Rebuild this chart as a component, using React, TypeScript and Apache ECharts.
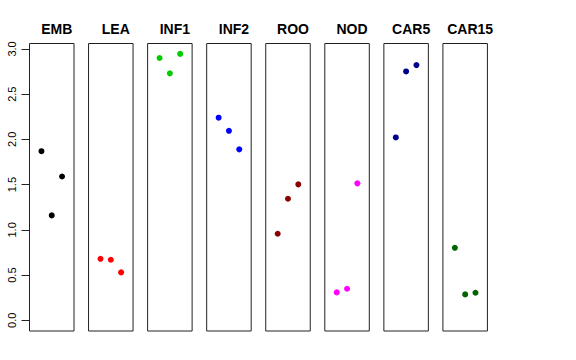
import React, { useEffect, useRef } from "react";
import * as echarts from "echarts";

const categories = ["EMB", "LEA", "INF1", "INF2", "ROO", "NOD", "CAR5", "CAR15"];
const colors = ["#000000", "#FF0000", "#00CD00", "#0000FF", "#8B0000", "#FF00FF", "#00008B", "#006400"];
const xPositions = [1, 2, 3];
const embValues = [1.87, 1.16, 1.59];
const leaValues = [0.68, 0.67, 0.53];
const inf1Values = [2.9, 2.73, 2.945];
const inf2Values = [2.24, 2.095, 1.89];
const rooValues = [0.957, 1.344, 1.503];
const nodValues = [0.309, 0.349, 1.514];
const car5Values = [2.022, 2.751, 2.821];
const car15Values = [0.802, 0.287, 0.305];
const seriesValues = [embValues, leaValues, inf1Values, inf2Values, rooValues, nodValues, car5Values, car15Values];
const yTicks = { min: 0, max: 3, interval: 0.5 };

export default function App() {
  const ref = useRef<HTMLDivElement>(null);
  useEffect(() => {
    document.body.style.margin = "0";
    if (!ref.current) return;
    const chart = echarts.init(ref.current, null, { renderer: "svg" });
    const left0 = 29.5;
    const step = 59.06;
    const w = 44.5;
    const top = 43.5;
    const h = 287.5;
    const yLo = -0.1177;
    const yHi = 3.06;
    const font = "Liberation Sans, Arial, Helvetica, sans-serif";
    const grids: any[] = [];
    const xAxes: any[] = [];
    const yAxes: any[] = [];
    const series: any[] = [];
    const titles: any[] = [];
    categories.forEach((c, i) => {
      const l = left0 + i * step;
      grids.push({ left: l, top, width: w, height: h, show: true, borderColor: "#222", borderWidth: 1, backgroundColor: "transparent" });
      xAxes.push({ gridIndex: i, type: "value", min: -0.16, max: 4.16, show: false });
      yAxes.push({ gridIndex: i, type: "value", min: yLo, max: yHi, show: false });
      series.push({
        type: "scatter",
        xAxisIndex: i,
        yAxisIndex: i,
        symbol: "circle",
        symbolSize: 6,
        itemStyle: { color: colors[i], opacity: 1 },
        data: xPositions.map((x, k) => [x, seriesValues[i][k]]),
      });
      titles.push({
        text: c,
        left: l + w / 2,
        top: 17,
        textAlign: "center",
        textStyle: { fontSize: 14, fontWeight: "bold", fontFamily: font, color: "#000" },
      });
    });
    // axis grid spanning 0..3 exactly
    const pxPerUnit = h / (yHi - yLo);
    const axTop = top + (yHi - yTicks.max) * pxPerUnit;
    const axH = (yTicks.max - yTicks.min) * pxPerUnit;
    grids.push({ left: left0, top: axTop, width: w, height: axH, show: false });
    xAxes.push({ gridIndex: 8, type: "value", min: 0, max: 1, show: false });
    yAxes.push({
      gridIndex: 8,
      type: "value",
      min: yTicks.min,
      max: yTicks.max,
      interval: yTicks.interval,
      axisLine: { show: true, lineStyle: { color: "#222", width: 1 } },
      axisTick: { show: true, length: 8, lineStyle: { color: "#222" } },
      splitLine: { show: false },
      axisLabel: {
        rotate: 90,
        margin: 12,
        fontSize: 11,
        fontFamily: font,
        color: "#000",
        formatter: (v: number) => v.toFixed(1),
      },
    });
    chart.setOption({
      animation: false,
      backgroundColor: "#fff",
      title: titles,
      grid: grids,
      xAxis: xAxes,
      yAxis: yAxes,
      series,
    });
    return () => chart.dispose();
  }, []);
  return <div ref={ref} style={{ width: 576, height: 360 }} />;
}
